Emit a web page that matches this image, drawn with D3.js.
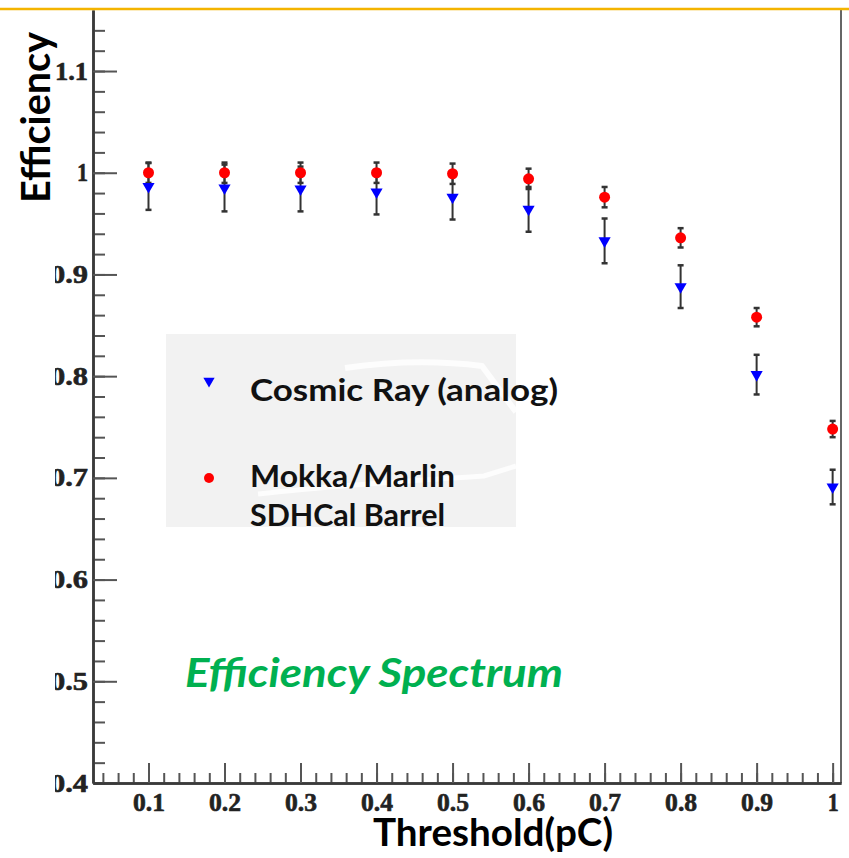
<!DOCTYPE html>
<html>
<head>
<meta charset="utf-8">
<script src="https://cdn.jsdelivr.net/npm/d3@7"></script>
<style>
    html, body { margin: 0; padding: 0; background: #fff; }
    svg { display: block; }
    .tick-label { font-family: "Liberation Serif", "DejaVu Serif", serif; font-weight: bold; fill: #222; stroke: #222; stroke-width: 0.6px; }
    .sans-bold { font-family: Lato, "Open Sans", sans-serif; font-weight: bold; }
</style>
</head>
<body>
<div id="chart"></div>
<script>
// Efficiency vs threshold — cosmic ray data against Mokka/Marlin simulation
const thresholds = [0.1, 0.2, 0.3, 0.4, 0.5, 0.6, 0.7, 0.8, 0.9, 1.0];
const cosmicEff = [0.9865, 0.985, 0.984, 0.981, 0.976, 0.964, 0.933, 0.888, 0.8015, 0.691];
const cosmicErr = [0.023, 0.023, 0.022, 0.022, 0.022, 0.022, 0.022, 0.021, 0.0195, 0.017];
const mokkaEff = [1.0, 1.0, 1.0, 1.0, 0.999, 0.994, 0.976, 0.936, 0.858, 0.748];
const mokkaErr = [0.01, 0.01, 0.01, 0.01, 0.01, 0.01, 0.01, 0.0095, 0.009, 0.008];
const xMajorTicks = [0.1, 0.2, 0.3, 0.4, 0.5, 0.6, 0.7, 0.8, 0.9, 1.0];
const yMajorTicks = [0.4, 0.5, 0.6, 0.7, 0.8, 0.9, 1.0, 1.1];
const legendLabels = ['Cosmic Ray (analog)', 'Mokka/Marlin', 'SDHCal Barrel'];

const W = 849, H = 858;
const frame = { left: 93, right: 841, top: 10, bottom: 783 };

const svg = d3.select('#chart').append('svg')
    .attr('width', W)
    .attr('height', H);

// the y labels are cut on their left side in the source picture
svg.append('defs').append('clipPath').attr('id', 'ylab-clip')
    .append('rect').attr('x', 55).attr('y', 0).attr('width', W).attr('height', H);

const x = d3.scaleLinear().domain([0.027, 1.011]).range([frame.left, frame.right]);
const y = d3.scaleLinear().domain([0.4, 1.16]).range([frame.bottom, frame.top]);

// minor ticks every 0.02
const xMinorTicks = d3.range(2, 51).map(i => i * 0.02).filter(v => v > 0.027 && v <= 1.0001);
const yMinorTicks = d3.range(20, 59).map(i => i * 0.02).filter(v => v < 1.16);

const fmt = d => String(+d.toFixed(2));

// frame lines
svg.append('line')
    .attr('x1', frame.right).attr('x2', frame.right)
    .attr('y1', frame.top).attr('y2', frame.bottom)
    .attr('stroke', '#666').attr('stroke-width', 2);

// y axis (wrapped so the clip works in page coordinates)
const yWrap = svg.append('g').attr('clip-path', 'url(#ylab-clip)');
const yMinor = yWrap.append('g')
    .attr('transform', `translate(${frame.left},0)`)
    .call(d3.axisLeft(y).tickValues(yMinorTicks).tickSize(-12).tickSizeOuter(0).tickFormat(''));
const yMajor = yWrap.append('g')
    .attr('transform', `translate(${frame.left},0)`)
    .call(d3.axisLeft(y).tickValues(yMajorTicks).tickSize(-24).tickSizeOuter(0).tickPadding(5).tickFormat(fmt));

// x axis
const xMinor = svg.append('g')
    .attr('transform', `translate(0,${frame.bottom})`)
    .call(d3.axisBottom(x).tickValues(xMinorTicks).tickSize(-10).tickSizeOuter(0).tickFormat(''));
const xMajor = svg.append('g')
    .attr('transform', `translate(0,${frame.bottom})`)
    .call(d3.axisBottom(x).tickValues(xMajorTicks).tickSize(-20).tickSizeOuter(0).tickPadding(10).tickFormat(fmt));

for (const g of [yMinor, yMajor, xMinor, xMajor]) {
    g.select('.domain').attr('stroke', '#3a3a3a').attr('stroke-width', 2.5);
    g.selectAll('.tick line').attr('stroke', '#555').attr('stroke-width', 2);
    g.selectAll('.tick text')
        .attr('class', 'tick-label')
        .attr('font-size', 25)
        .attr('fill', '#222');
}
xMajor.selectAll('.tick text')
    .attr('textLength', d => fmt(d).length === 1 ? 11 : 32)
    .attr('lengthAdjust', 'spacingAndGlyphs');
yMajor.selectAll('.tick text')
    .attr('textLength', d => fmt(d).length === 1 ? 11 : (d > 1.05 ? 33 : 38))
    .attr('lengthAdjust', 'spacingAndGlyphs');

// legend box with faint watermark
const legend = svg.append('g');
legend.append('rect')
    .attr('x', 166).attr('y', 334)
    .attr('width', 350).attr('height', 193)
    .attr('fill', '#f2f2f2');
legend.append('path')
    .attr('d', 'M345,368 C400,360 450,362 482,366 L516,412')
    .attr('fill', 'none').attr('stroke', '#fff').attr('stroke-width', 6).attr('opacity', 0.8);
legend.append('path')
    .attr('d', 'M258,494 C330,486 420,480 484,476 L516,466')
    .attr('fill', 'none').attr('stroke', '#fff').attr('stroke-width', 5).attr('opacity', 0.8);

legend.append('path')
    .attr('d', d3.symbol(d3.symbolTriangle, 55)())
    .attr('transform', 'translate(209,381) rotate(180)')
    .attr('fill', '#0000ff');
legend.append('circle')
    .attr('cx', 209).attr('cy', 478).attr('r', 5)
    .attr('fill', '#ff0000');

const legendPos = [[250, 401, 308], [250, 487, 205], [250, 526, 195]];
legendLabels.forEach((t, i) => {
    legend.append('text')
        .attr('class', 'sans-bold')
        .attr('x', legendPos[i][0]).attr('y', legendPos[i][1])
        .attr('font-size', 31)
        .attr('textLength', legendPos[i][2])
        .attr('lengthAdjust', 'spacingAndGlyphs')
        .attr('fill', '#111')
        .text(t);
});

// error bars
function drawErrors(vals, errs, capW) {
    const g = svg.append('g').attr('stroke', '#333').attr('stroke-width', 2);
    thresholds.forEach((t, i) => {
        const cx = x(t), y1 = y(vals[i] + errs[i]), y2 = y(vals[i] - errs[i]);
        g.append('line').attr('x1', cx).attr('x2', cx).attr('y1', y1).attr('y2', y2);
        g.append('line').attr('x1', cx - capW).attr('x2', cx + capW).attr('y1', y1).attr('y2', y1).attr('stroke-width', 2.5);
        g.append('line').attr('x1', cx - capW).attr('x2', cx + capW).attr('y1', y2).attr('y2', y2).attr('stroke-width', 2.5);
    });
}
drawErrors(mokkaEff, mokkaErr, 3);
drawErrors(cosmicEff, cosmicErr, 3);

// markers
svg.append('g').selectAll('circle')
    .data(thresholds)
    .join('circle')
    .attr('cx', d => x(d))
    .attr('cy', (d, i) => y(mokkaEff[i]))
    .attr('r', 5.5)
    .attr('fill', '#ff0000');

const tri = d3.symbol(d3.symbolTriangle, 64)();
svg.append('g').selectAll('path')
    .data(thresholds)
    .join('path')
    .attr('d', tri)
    .attr('transform', (d, i) => `translate(${x(d)},${y(cosmicEff[i])}) rotate(180)`)
    .attr('fill', '#0000ff');

// annotation
svg.append('text')
    .attr('x', 185).attr('y', 687)
    .attr('font-family', 'Lato, "Open Sans", sans-serif')
    .attr('font-weight', 'bold')
    .attr('font-style', 'italic')
    .attr('font-size', 41)
    .attr('textLength', 378)
    .attr('lengthAdjust', 'spacingAndGlyphs')
    .attr('fill', '#00b050')
    .text('Efficiency Spectrum');

// axis titles
svg.append('text')
    .attr('class', 'sans-bold')
    .attr('x', 373).attr('y', 846)
    .attr('font-size', 38)
    .attr('textLength', 240)
    .attr('lengthAdjust', 'spacingAndGlyphs')
    .attr('fill', '#000')
    .text('Threshold(pC)');

svg.append('text')
    .attr('class', 'sans-bold')
    .attr('transform', 'translate(50,203) rotate(-90)')
    .attr('font-size', 40)
    .attr('textLength', 171)
    .attr('lengthAdjust', 'spacingAndGlyphs')
    .attr('fill', '#000')
    .text('Efficiency');

// slide rule across the top
svg.append('line')
    .attr('x1', 0).attr('x2', W)
    .attr('y1', 9).attr('y2', 9)
    .attr('stroke', '#f4b400').attr('stroke-width', 2.5);
</script>
</body>
</html>
